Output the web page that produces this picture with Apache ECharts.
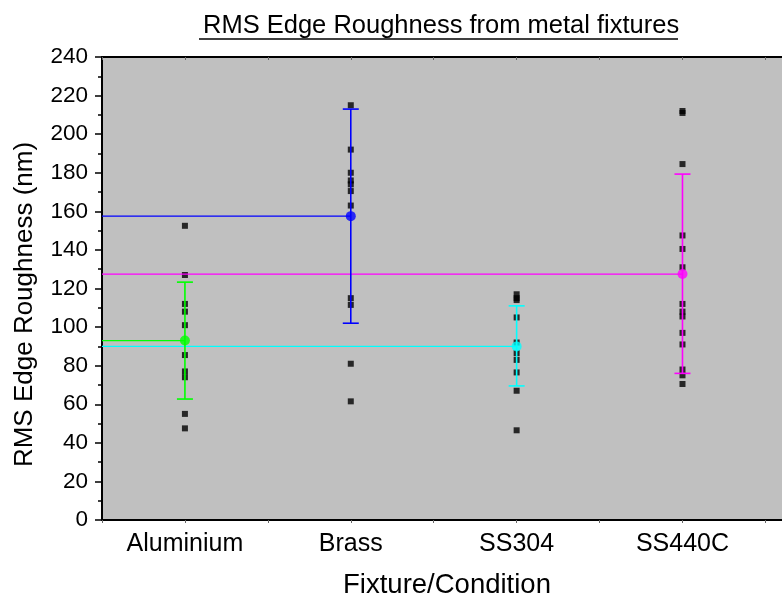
<!DOCTYPE html>
<html>
<head>
<meta charset="utf-8">
<script src="https://cdn.jsdelivr.net/npm/echarts@6/dist/echarts.min.js"></script>
<style>html,body{margin:0;padding:0;background:#fff}#c{width:782px;height:597px}</style>
</head>
<body>
<div id="c"></div>
<script>
var categories = ['Aluminium', 'Brass', 'SS304', 'SS440C'];
var aluminium = [152.5, 127, 112, 108, 101, 85.5, 77, 74, 55, 47.5];
var brass = [215, 192, 180, 176, 174, 170.5, 163, 115, 111.5, 81, 61.5];
var ss304 = [117, 115, 114, 105, 92, 86.5, 83, 76.5, 67, 46.5];
var ss440c = [212, 211, 184.5, 147.5, 140.5, 131, 112, 108, 105.5, 97, 91, 78, 75, 70.5];
var means = [93, 157.5, 90, 127.5];
var errUpper = [123.3, 213, 111, 179.3];
var errLower = [62.7, 102, 69.5, 76];
var colors = ['#00ff00', '#0000ff', '#00ffff', '#ff00ff'];
var yTicks = [0, 20, 40, 60, 80, 100, 120, 140, 160, 180, 200, 220, 240];

var groups = [aluminium, brass, ss304, ss440c];
var rawPoints = [];
groups.forEach(function (g, i) {
  g.forEach(function (v) { rawPoints.push([i + 1, v]); });
});

var series = [];
series.push({
  type: 'scatter', data: rawPoints, symbol: 'rect', symbolSize: 6,
  itemStyle: { color: '#000' }, z: 2, silent: true
});
categories.forEach(function (c, i) {
  series.push({
    type: 'line', data: [[0.5, means[i]], [i + 1, means[i]]],
    symbol: 'none', lineStyle: { color: colors[i], width: 1.2 }, z: 3, silent: true
  });
});
series.push({
  type: 'custom', z: 4, silent: true,
  data: categories.map(function (c, i) { return [i + 1, errLower[i], errUpper[i]]; }),
  renderItem: function (params, api) {
    var i = params.dataIndex;
    var lo = api.coord([api.value(0), api.value(1)]);
    var hi = api.coord([api.value(0), api.value(2)]);
    var w = 8;
    var st = { stroke: colors[i], lineWidth: 1.6 };
    return {
      type: 'group', children: [
        { type: 'line', shape: { x1: lo[0], y1: lo[1], x2: hi[0], y2: hi[1] }, style: st },
        { type: 'line', shape: { x1: lo[0] - w, y1: lo[1], x2: lo[0] + w, y2: lo[1] }, style: st },
        { type: 'line', shape: { x1: hi[0] - w, y1: hi[1], x2: hi[0] + w, y2: hi[1] }, style: st }
      ]
    };
  }
});
categories.forEach(function (c, i) {
  series.push({
    type: 'scatter', data: [[i + 1, means[i]]], symbol: 'circle', symbolSize: 10,
    itemStyle: { color: colors[i] }, z: 5, silent: true
  });
});

var chart = echarts.init(document.getElementById('c'));
chart.setOption({
  animation: false,
  backgroundColor: '#fff',
  title: {
    text: 'RMS Edge Roughness from metal fixtures',
    left: 198, top: 8,
    textStyle: { fontFamily: 'Liberation Sans', fontSize: 25.5, fontWeight: 'normal', color: '#000' }
  },
  graphic: [{
    type: 'line', shape: { x1: 199, y1: 39, x2: 678, y2: 39 },
    style: { stroke: '#000', lineWidth: 1.3 }
  }],
  grid: {
    left: 102, top: 57, right: 0, bottom: 77, show: true, backgroundColor: '#c0c0c0', borderWidth: 0,
    outerBoundsMode: 'none', containLabel: false
  },
  xAxis: [{
    type: 'value', min: 0.5, max: 4.6, interval: 0.5, position: 'bottom',
    name: 'Fixture/Condition', nameLocation: 'middle', nameGap: 51,
    nameTextStyle: { fontFamily: 'Liberation Sans', fontSize: 27.5, color: '#000', padding: [0, 0, 0, 10] },
    axisLine: { show: true, onZero: false, lineStyle: { color: '#000', width: 2 } },
    axisTick: { show: true, length: 3, lineStyle: { color: '#666', width: 1 } },
    axisLabel: {
      margin: 12, fontFamily: 'Liberation Sans', fontSize: 25, color: '#000',
      showMaxLabel: false,
      formatter: function (v) { return Number.isInteger(v) && categories[v - 1] ? categories[v - 1] : ''; }
    },
    splitLine: { show: false }
  }, {
    type: 'value', min: 0.5, max: 4.6, interval: 0.5, position: 'top',
    axisLine: { show: true, onZero: false, lineStyle: { color: '#000', width: 2 } },
    axisTick: { show: true, inside: true, length: 3, lineStyle: { color: '#666', width: 1 } },
    axisLabel: { show: false }, splitLine: { show: false }
  }],
  yAxis: {
    type: 'value', min: 0, max: 240, interval: 20,
    name: 'RMS Edge Roughness (nm)', nameLocation: 'middle', nameGap: 64,
    nameTextStyle: { fontFamily: 'Liberation Sans', fontSize: 26, color: '#000', padding: [0, 32, 0, 0] },
    axisLine: { show: true, onZero: false, lineStyle: { color: '#000', width: 2 } },
    axisTick: { show: true, length: 7, lineStyle: { color: '#000', width: 1.5 } },
    minorTick: { show: true, splitNumber: 2, length: 4, lineStyle: { color: '#000', width: 1.5 } },
    axisLabel: {
      margin: 14, fontFamily: 'Liberation Sans', fontSize: 22.5, color: '#000',
      formatter: function (v) { return yTicks.indexOf(v) >= 0 ? String(v) : ''; }
    },
    splitLine: { show: false }
  },
  series: series
});
</script>
</body>
</html>
